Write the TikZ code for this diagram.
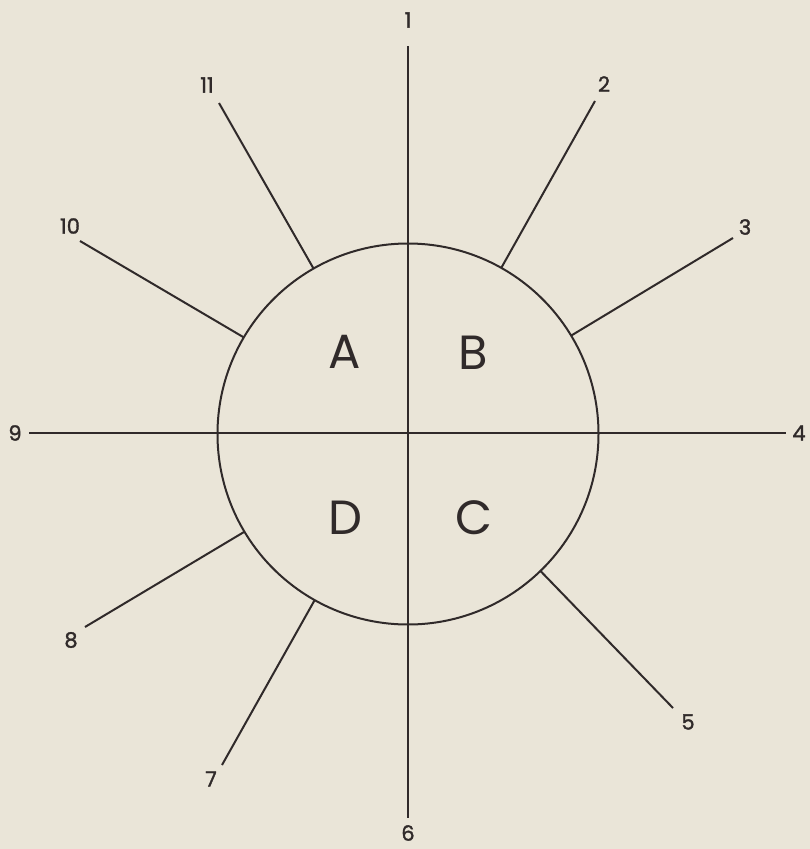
\documentclass[tikz,border=0pt]{standalone}
\usepackage{fontspec}
\setmainfont{Poppins}
\newfontfamily\numfont[FakeBold=1.5]{Poppins}
\usetikzlibrary{positioning}
\definecolor{paper}{RGB}{234,229,216}
\definecolor{ink}{RGB}{48,42,42}

\begin{document}
\begin{tikzpicture}[x=1pt,y=-1pt,
  ray/.style={draw=ink,line width=2pt},
  num/.style={text=ink,font=\numfont\fontsize{21}{21}\selectfont,inner sep=0pt},
  quad/.style={text=ink,font=\fontsize{48}{48}\selectfont,inner sep=0pt}]
\useasboundingbox[fill=paper] (0,0) rectangle (810,849);
% --- disc and axes ---
  \node[circle,draw=ink,line width=2pt,minimum size=381pt,inner sep=0pt,outer sep=0pt] (disc) at (408,434) {};
  \coordinate (top) at (408,46);
  \coordinate (bot) at (408,818);
  \coordinate (lft) at (29,433);
  \coordinate (rgt) at (786,433);
  \draw[ray] (top) -- (bot);
  \draw[ray] (lft) -- (rgt);
  \node[num] (n1) at (408,20) {1};
  \node[num] (n4) at (799,433) {4};
  \node[num] (n6) at (408,833) {6};
  \node[num] (n9) at (15,433) {9};
% --- rays ---
  \foreach \n/\x/\y/\lx/\ly in {2/595/101/604/84, 3/733/238/745/227,
      5/673/708/688/722, 7/222/765/211/779, 8/85/627/71/640,
      10/80/241/70/226, 11/219/103/207/85}{
    \coordinate (e\n) at (\x,\y);
    \draw[ray] (disc) -- (e\n);
    \node[num] (n\n) at (\lx,\ly) {\n};
  }
% --- quadrants ---
  \node[quad] (qa) at (345,352) {A};
  \node[quad] (qb) at (473,353) {B};
  \node[quad] (qc) at (474,518) {C};
  \node[quad] (qd) at (345,518) {D};
\end{tikzpicture}
\end{document}
